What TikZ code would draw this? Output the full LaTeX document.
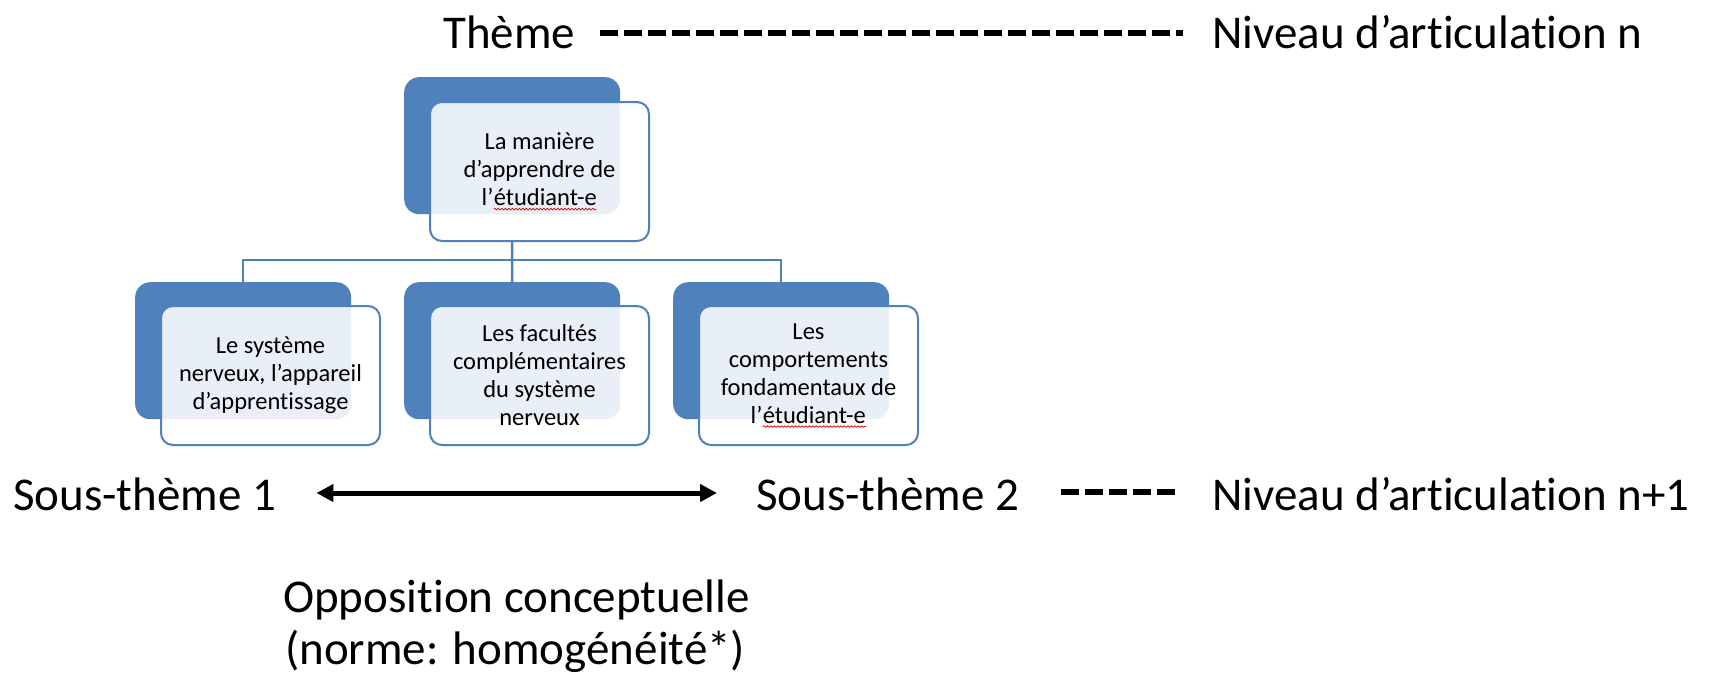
\documentclass[tikz,border=0pt]{standalone}
\usepackage{fontspec}
\setmainfont{Carlito}[Ligatures=NoCommon]
\usetikzlibrary{arrows.meta,decorations.pathmorphing}
\definecolor{acc}{HTML}{4F81BD}
\newcommand\spellmark[1]{\tikz[baseline=(sw.base),x=1pt,y=1pt]{%
  \node[inner sep=0pt,outer sep=0pt,minimum width=0pt,minimum height=0pt,draw=none,fill=none,
        rounded corners=0pt,anchor=base,text=black,align=left] (sw) {#1};
  \draw[draw=red!85!black,line width=0.7pt,fill=none,rounded corners=0pt,
        decorate,decoration={snake,amplitude=0.8pt,segment length=3.5pt}]
        ([yshift=-3.5pt]sw.base west) -- ([yshift=-3.5pt]sw.base east);}}
\begin{document}
\begin{tikzpicture}[x=1pt,y=-1pt,
  big/.style={font=\fontsize{47}{56}\selectfont, inner sep=0pt, anchor=base west},
  back/.style={fill=acc, rounded corners=15pt, minimum width=216pt, minimum height=137pt, anchor=north west, inner sep=0pt},
  front/.style={draw=acc, line width=2pt, fill=white, fill opacity=0.88, text opacity=1,
    rounded corners=12pt, align=center, font=\fontsize{24.5}{28}\selectfont, text=black,
    minimum width=219pt, minimum height=139pt, anchor=north west, inner sep=0pt},
  conn/.style={draw=acc, line width=2.5pt},
  dashln/.style={line width=6pt, dash pattern=on 18pt off 6pt},
  dbl/.style={line width=5pt, {Triangle[length=17pt,width=17pt]}-{Triangle[length=17pt,width=17pt]}}]
\useasboundingbox (0,0) rectangle (1717,675);

% top texts
\node[big] (theme) at (443,48) {Thème};
\node[big] (niv1) at (1212,48) {Niveau d’articulation n};
\draw[dashln] ([xshift=25pt,yshift=15pt]theme.base east) -- ([xshift=-29pt,yshift=15pt]niv1.base west);

% boxes
\node[back] (b0) at (404,77) {};
\node[front] (f0) at (429,101) {La manière\\d’apprendre de\\l’\spellmark{étudiant-e}};

\node[back] (b1) at (135,282) {};
\node[front] (f1) at (160,305) {Le système\\nerveux, l’appareil\\d’apprentissage};

\node[back] (b2) at (404,282) {};
\node[front] (f2) at (429,305) {Les facultés\\complémentaires\\du système\\nerveux};

\node[back] (b3) at (673,282) {};
\node[front] (f3) at (698,305) {Les\\comportements\\fondamentaux de\\l’\spellmark{étudiant-e}};

% connectors
\coordinate (hub) at (512,260);
\draw[conn] (b0.center |- f0.south) -- (hub);
\draw[conn] (b1.north) |- (hub) -| (b3.north);
\draw[conn] (hub) -- (b2.north);

% bottom texts
\node[big] (s1) at (13,510) {Sous-thème 1};
\node[big] (s2) at (756,510) {Sous-thème 2};
\node[big] (niv2) at (1212,510) {Niveau d’articulation n+1};
\draw[dbl] ([xshift=40pt,yshift=17pt]s1.base east) -- ([xshift=-39pt,yshift=17pt]s2.base west);
\draw[dashln] ([xshift=42pt,yshift=18pt]s2.base east) -- ([xshift=-32pt,yshift=18pt]niv2.base west);

\node[big] (opp) at (283,612) {Opposition conceptuelle};
\node[big] (norme) at (285,664) {(norme: homogénéité*)};
\end{tikzpicture}
\end{document}
